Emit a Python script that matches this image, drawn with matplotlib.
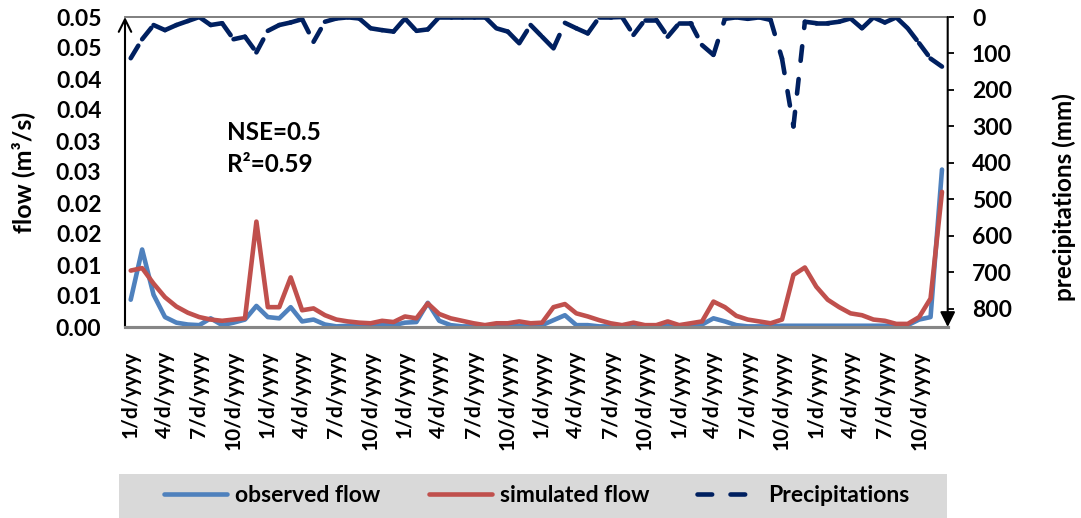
import numpy as np
import matplotlib
matplotlib.use("Agg")
import matplotlib.pyplot as plt
from matplotlib.collections import LineCollection
from matplotlib.lines import Line2D
from matplotlib.patches import Rectangle

# ---------------- data ----------------
observed_flow = [
    0.0044, 0.0125, 0.0052, 0.0016, 0.0007, 0.0004, 0.0003, 0.0014, 0.0003, 0.0007,
    0.0012, 0.0034, 0.0016, 0.0014, 0.0032, 0.0009, 0.0012, 0.0004, 0.0001, 0.0002,
    0.0001, 0.0001, 0.0003, 0.0003, 0.0007, 0.0008, 0.0039, 0.0010, 0.0003, 0.0001,
    0.0001, 0.0001, 0.0001, 0.0001, 0.0002, 0.0001, 0.0003, 0.0011, 0.0019, 0.0003,
    0.0003, 0.0001, 0.0001, 0.0001, 0.0002, 0.0001, 0.0001, 0.0002, 0.0001, 0.0002,
    0.0004, 0.0014, 0.0009, 0.0003, 0.0001, 0.0001, 0.0001, 0.0002, 0.0002, 0.0002,
    0.0002, 0.0002, 0.0002, 0.0002, 0.0002, 0.0002, 0.0002, 0.0002, 0.0003, 0.0012,
    0.0016, 0.0254]
simulated_flow = [
    0.0091, 0.0095, 0.0070, 0.0048, 0.0033, 0.0023, 0.0016, 0.0012, 0.0010, 0.0012,
    0.0014, 0.0170, 0.0032, 0.0032, 0.0080, 0.0027, 0.0030, 0.0019, 0.0012, 0.0009,
    0.0007, 0.0006, 0.0010, 0.0008, 0.0017, 0.0014, 0.0038, 0.0021, 0.0014, 0.0010,
    0.0006, 0.0003, 0.0006, 0.0006, 0.0009, 0.0006, 0.0007, 0.0032, 0.0037, 0.0022,
    0.0017, 0.0011, 0.0006, 0.0003, 0.0007, 0.0003, 0.0003, 0.0009, 0.0003, 0.0006,
    0.0009, 0.0041, 0.0032, 0.0018, 0.0012, 0.0009, 0.0006, 0.0012, 0.0084, 0.0096,
    0.0065, 0.0044, 0.0032, 0.0022, 0.0019, 0.0012, 0.0010, 0.0005, 0.0005, 0.0016,
    0.0046, 0.0218]
precipitations = [
    113, 61, 22, 36, 22, 11, 0, 22, 17, 61,
    54, 97, 38, 22, 15, 6, 68, 13, 4, 1,
    4, 31, 36, 40, 4, 38, 34, 0, 0, 0,
    0, 0, 31, 40, 72, 22, 54, 86, 16, 31,
    45, 1, 1, 0, 49, 8, 8, 54, 17, 17,
    77, 104, 5, 1, 5, 1, 8, 114, 300, 13,
    17, 17, 13, 4, 31, 1, 15, 1, 31, 72,
    114, 136]
month_labels = ["1/d/yyyy", "4/d/yyyy", "7/d/yyyy", "10/d/yyyy"] * 6
flow_ticks = [0.0, 0.005, 0.01, 0.015, 0.02, 0.025, 0.03, 0.035, 0.04, 0.045, 0.05]
flow_tick_labels = ["0.00", "0.01", "0.01", "0.02", "0.02", "0.03",
                    "0.03", "0.04", "0.04", "0.05", "0.05"]
precip_ticks = [0, 100, 200, 300, 400, 500, 600, 700, 800]

# ---------------- style ----------------
plt.rcParams['font.family'] = ['Lato', 'DejaVu Sans']
plt.rcParams['font.weight'] = 'bold'
C_OBS = '#4F81BD'
C_SIM = '#C0504D'
C_PRE = '#002060'
LW = 3.3
DASH = (0, (3.2, 4.0))
FS = 16.5

fig = plt.figure(figsize=(10.81, 5.18), dpi=100)
ax = fig.add_axes([125 / 1081, 1 - 327 / 518, (947.7 - 125) / 1081, 310 / 518])
ax2 = ax.twinx()

x = np.arange(len(observed_flow))
ax.plot(x, observed_flow, color=C_OBS, lw=LW, solid_capstyle='round',
        solid_joinstyle='round', zorder=3)
ax.plot(x, simulated_flow, color=C_SIM, lw=LW, solid_capstyle='round',
        solid_joinstyle='round', zorder=4)

pts = np.column_stack([x, precipitations])
segs = np.stack([pts[:-1], pts[1:]], axis=1)
lc = LineCollection(segs, colors=C_PRE, linewidths=LW,
                    linestyles=[DASH], capstyle='round')
ax2.add_collection(lc)

ax.set_xlim(-0.5, len(x) - 0.5)
ax.set_ylim(0, 0.05)
ax2.set_ylim(850, 0)

xt = np.arange(0, len(x), 3)
ax.set_xticks(xt)
ax.set_xticklabels(month_labels[:len(xt)], rotation=90,
                   fontsize=FS - 1.5, fontweight='bold', va='top', ha='center')
ax.set_yticks(flow_ticks)
ax.set_yticklabels(flow_tick_labels, fontsize=FS, fontweight='bold')
ax2.set_yticks(precip_ticks)
ax2.set_yticklabels([str(v) for v in precip_ticks], fontsize=FS, fontweight='bold')

ax.tick_params(axis='x', length=0, pad=17)
ax.tick_params(axis='y', length=0, pad=17)
ax2.tick_params(axis='y', length=4.5, width=1.3, pad=13, color='black', direction='out')

fig.text(23 / 1081, 1 - 172 / 518, 'flow (m³/s)', rotation=90, fontsize=FS + 1.5,
         fontweight='bold', ha='center', va='center')
fig.text(1064 / 1081, 1 - 197 / 518, 'precipitations (mm)', rotation=90,
         fontsize=FS + 1, fontweight='bold', ha='center', va='center')

for a in (ax, ax2):
    a.spines['left'].set_visible(False)
    a.spines['right'].set_visible(False)
    a.spines['top'].set_color('#7f7f7f')
    a.spines['top'].set_linewidth(1.2)
    a.spines['bottom'].set_color('#868686')
    a.spines['bottom'].set_linewidth(2.2)

# axis arrows
ax.annotate('', xy=(0, 1), xytext=(0, 0), xycoords='axes fraction',
            arrowprops=dict(arrowstyle='->, head_length=0.9, head_width=0.45',
                            color='black', lw=1.5, shrinkA=0, shrinkB=0), zorder=6)
ax2.annotate('', xy=(1, 0), xytext=(1, 1), xycoords='axes fraction',
             arrowprops=dict(arrowstyle='-|>, head_length=0.9, head_width=0.45',
                             color='black', lw=1.5, shrinkA=0, shrinkB=0), zorder=6)

ax.text(0.124, 0.626, 'NSE=0.5', transform=ax.transAxes, fontsize=FS + 1,
        fontweight='bold', va='center', ha='left')
ax.text(0.124, 0.523, 'R²=0.59', transform=ax.transAxes, fontsize=FS + 1,
        fontweight='bold', va='center', ha='left')

# legend
fig.patches.append(Rectangle((119 / 1081, 0), 828 / 1081, 44 / 518,
                             transform=fig.transFigure, facecolor='#d9d9d9',
                             edgecolor='none', zorder=0))
handles = [Line2D([], [], color=C_OBS, lw=LW, solid_capstyle='round'),
           Line2D([], [], color=C_SIM, lw=LW, solid_capstyle='round'),
           Line2D([], [], color=C_PRE, lw=LW, linestyle=DASH,
                  dash_capstyle='round')]
fig.legend(handles, ['observed flow', 'simulated flow', 'Precipitations'],
           loc='center', bbox_to_anchor=(537 / 1081, 22 / 518), ncol=3,
           frameon=False, handlelength=2.75, handletextpad=0.35,
           columnspacing=2.1, prop={'weight': 'bold', 'size': FS})

fig.savefig('out.png', dpi=100)
